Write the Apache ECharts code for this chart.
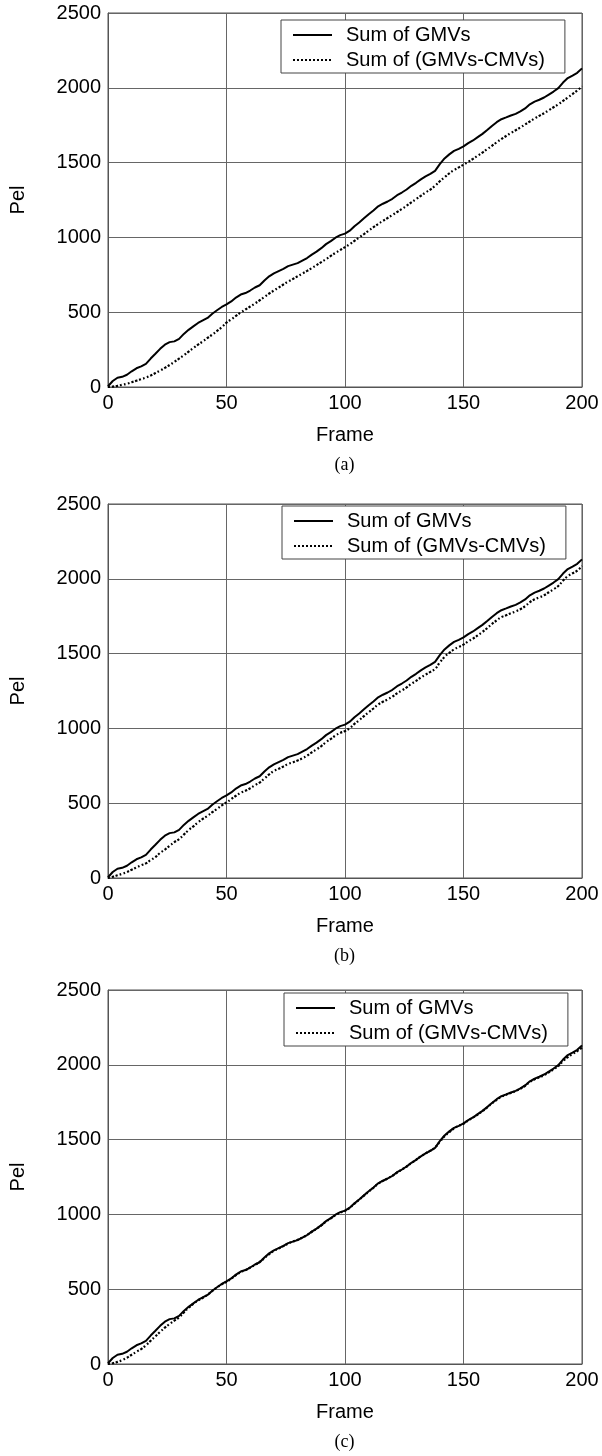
<!DOCTYPE html>
<html>
<head>
<meta charset="utf-8">
<script src="https://cdn.jsdelivr.net/npm/echarts@6/dist/echarts.min.js"></script>
<style>
  html, body { margin: 0; padding: 0; background: #fff; }
  #chart { width: 602px; height: 1456px; }
</style>
</head>
<body>
<div id="chart"></div>
<script>
// Frame numbers sampled along the x axis
const frames = [0,2,4,6,8,10,12,14,16,18,20,22,24,26,28,30,32,34,36,38,40,42,44,46,48,50,52,54,56,58,60,62,64,66,68,70,72,74,76,78,80,82,84,86,88,90,92,94,96,98,100,102,104,106,108,110,112,114,116,118,120,122,124,126,128,130,132,134,136,138,140,142,144,146,148,150,152,154,156,158,160,162,164,166,168,170,172,174,176,178,180,182,184,186,188,190,192,194,196,198,200];

// Cumulative sum of global motion vectors (same in all three panels)
const gmvSum = [5,40,62,68,82,105,125,138,155,190,222,255,283,300,305,322,355,382,405,428,445,462,490,513,535,552,572,598,618,628,645,665,680,712,740,760,775,790,808,818,828,845,862,885,905,928,955,975,998,1015,1025,1045,1075,1100,1128,1155,1180,1208,1225,1240,1258,1282,1300,1320,1345,1365,1388,1408,1425,1445,1490,1528,1555,1578,1592,1608,1630,1648,1670,1692,1718,1745,1770,1790,1802,1815,1826,1842,1862,1890,1908,1920,1935,1955,1975,1998,2035,2065,2082,2100,2130];

// Cumulative sum of (GMVs - CMVs), panel (a)
const diffSumA = [0,3,8,15,22,32,42,52,63,77,93,110,128,147,168,190,212,236,260,283,305,328,350,375,400,430,452,475,498,518,538,558,580,602,625,645,665,685,705,722,740,758,776,795,815,835,855,876,897,916,935,955,977,1000,1022,1045,1068,1090,1110,1130,1150,1170,1190,1212,1234,1256,1278,1300,1320,1345,1375,1402,1428,1450,1468,1486,1505,1525,1546,1567,1590,1612,1636,1658,1678,1698,1716,1735,1755,1775,1795,1813,1830,1850,1870,1890,1912,1935,1958,1982,2010];

// Cumulative sum of (GMVs - CMVs), panel (b)
const diffSumB = [0,8,18,28,40,55,70,85,98,120,140,168,190,215,240,260,290,320,345,372,395,415,440,462,485,505,527,550,570,583,600,620,638,665,692,715,730,745,762,773,785,800,818,840,860,882,908,930,952,970,982,1002,1030,1055,1082,1108,1133,1160,1178,1194,1212,1235,1254,1274,1298,1318,1340,1360,1378,1398,1440,1478,1505,1528,1545,1560,1582,1600,1622,1645,1670,1698,1722,1744,1756,1770,1782,1797,1817,1844,1863,1876,1890,1910,1930,1952,1988,2018,2037,2055,2085];

// Cumulative sum of (GMVs - CMVs), panel (c)
const diffSumC = [0,5,14,26,42,62,82,100,125,155,185,215,243,268,290,312,345,375,402,425,443,462,488,512,533,550,570,594,614,628,645,662,682,708,735,756,772,788,805,818,830,845,862,884,904,926,952,973,995,1012,1024,1044,1072,1098,1125,1152,1178,1205,1224,1240,1258,1280,1300,1320,1343,1365,1388,1408,1426,1448,1485,1522,1550,1575,1592,1606,1628,1647,1668,1690,1715,1742,1766,1786,1800,1812,1824,1840,1860,1885,1903,1916,1930,1950,1970,1992,2025,2052,2072,2092,2115];

const xTicks = { min: 0, max: 200, step: 50 };
const yTicks = { min: 0, max: 2500, step: 500 };
const seriesNames = ['Sum of GMVs', 'Sum of (GMVs-CMVs)'];
const captions = ['(a)', '(b)', '(c)'];
const panelData = [diffSumA, diffSumB, diffSumC];

const FONT = '"Liberation Sans", Arial, Helvetica, sans-serif';
const panelTops = [13, 504, 990];
const legendBoxes = [[281, 20], [282, 506], [284, 993]];
const plotH = 374;

const pairs = vals => frames.map((f, i) => [f, vals[i]]);

const grids = [], xAxes = [], yAxes = [], series = [], legends = [], graphics = [];

panelTops.forEach((top, k) => {
  grids.push({
    left: 107, top: top, width: 475, height: plotH,
    show: true, borderColor: '#555', borderWidth: 1, backgroundColor: '#fff'
  });
  xAxes.push({
    type: 'value', gridIndex: k,
    min: xTicks.min, max: xTicks.max, interval: xTicks.step,
    name: 'Frame', nameLocation: 'middle', nameGap: 38,
    nameTextStyle: { fontFamily: FONT, fontSize: 20, color: '#000', lineHeight: 20 },
    axisLine: { show: true, lineStyle: { color: '#555', width: 1 } },
    axisTick: { show: false },
    axisLabel: { fontFamily: FONT, fontSize: 20, color: '#000', margin: 6, lineHeight: 20,
      formatter: v => String(v) },
    splitLine: { show: true, lineStyle: { color: '#666', width: 1 } }
  });
  yAxes.push({
    type: 'value', gridIndex: k,
    min: yTicks.min, max: yTicks.max, interval: yTicks.step,
    name: 'Pel', nameLocation: 'middle', nameGap: 80, nameRotate: 90,
    nameTextStyle: { fontFamily: FONT, fontSize: 20, color: '#000', lineHeight: 20 },
    axisLine: { show: true, lineStyle: { color: '#555', width: 1 } },
    axisTick: { show: false },
    axisLabel: { fontFamily: FONT, fontSize: 20, color: '#000', margin: 7,
      formatter: v => String(v) },
    splitLine: { show: true, lineStyle: { color: '#666', width: 1 } }
  });
  series.push({
    name: seriesNames[0], type: 'line', xAxisIndex: k, yAxisIndex: k,
    data: pairs(gmvSum), symbol: 'none', smooth: false, z: 3,
    lineStyle: { color: '#000', width: 2, type: 'solid' },
    itemStyle: { color: '#000' }
  });
  series.push({
    name: seriesNames[1], type: 'line', xAxisIndex: k, yAxisIndex: k,
    data: pairs(panelData[k]), symbol: 'none', smooth: true, z: 2,
    lineStyle: { color: '#000', width: 2.2, type: [2, 2] },
    itemStyle: { color: '#000' }
  });
  legends.push({
    data: seriesNames,
    orient: 'vertical',
    left: legendBoxes[k][0], top: legendBoxes[k][1],
    padding: [5, 20, 3, 11],
    itemGap: 5, itemWidth: 39, itemHeight: 14,
    backgroundColor: '#fff', borderColor: '#444', borderWidth: 1,
    selectedMode: false,
    itemStyle: { color: 'rgba(0,0,0,0)', borderColor: 'rgba(0,0,0,0)', borderWidth: 0, opacity: 0 },
    textStyle: { fontFamily: FONT, fontSize: 20, color: '#000', lineHeight: 20, padding: [0, 0, 0, 9] }
  });
  graphics.push({
    type: 'text', x: 344.5, y: top + plotH + 78,
    style: {
      text: captions[k], fill: '#000',
      font: '18px "Liberation Serif", "Times New Roman", serif',
      textAlign: 'center', textVerticalAlign: 'middle'
    }
  });
});

const chart = echarts.init(document.getElementById('chart'), null, { renderer: 'canvas' });
chart.setOption({
  animation: false,
  backgroundColor: '#fff',
  grid: grids,
  xAxis: xAxes,
  yAxis: yAxes,
  legend: legends,
  series: series,
  graphic: graphics
});
</script>
</body>
</html>
